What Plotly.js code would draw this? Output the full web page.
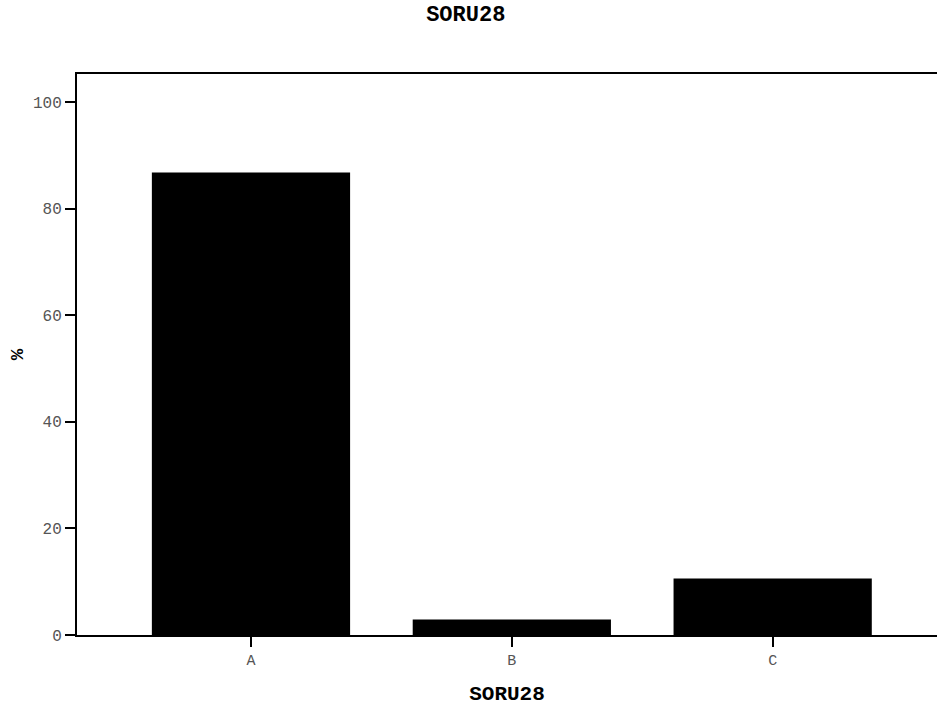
<!DOCTYPE html>
<html>
<head>
<meta charset="utf-8">
<script src="https://cdn.plot.ly/plotly-3.0.1.min.js"></script>
<style>html,body{margin:0;padding:0;background:#fff;}#chart{width:939px;height:709px;}</style>
</head>
<body>
<div id="chart"></div>
<script>
const categories = ["A", "B", "C"];
const percents = [86.8, 2.9, 10.6];
const yTickVals = [0, 20, 40, 60, 80, 100];
const yTickText = ["0", "20", "40", "60", "80", "100"];

const mono = "Liberation Mono, Courier New, monospace";

Plotly.newPlot("chart", [{
  type: "bar",
  x: categories,
  y: percents,
  width: 0.76,
  marker: {color: "#000000", line: {color: "#000000", width: 0}},
  hoverinfo: "x+y"
}], {
  width: 939, height: 709,
  margin: {l: 77, r: 2, t: 74, b: 74},
  paper_bgcolor: "#ffffff", plot_bgcolor: "#ffffff",
  title: {text: "<b>SORU28</b>", font: {family: mono, size: 22, color: "#000"}, x: 0.496, xref: "container", y: 0.981, yref: "container", yanchor: "middle"},
  xaxis: {
    type: "category",
    range: [-0.667, 2.63],
    showline: true, linecolor: "#000", linewidth: 2, mirror: true,
    ticks: "outside", ticklen: 10, tickwidth: 2, tickcolor: "#000",
    tickfont: {family: mono, size: 15, color: "#555"},
    showgrid: false, zeroline: false,
    title: {text: "<b>SORU28</b>", font: {family: mono, size: 21, color: "#000"}, standoff: 16}
  },
  yaxis: {
    range: [0, 105.3],
    tickvals: yTickVals, ticktext: yTickText,
    showline: true, linecolor: "#000", linewidth: 2,
    ticks: "outside", ticklen: 10, tickwidth: 2, tickcolor: "#000",
    tickfont: {family: mono, size: 16, color: "#555"},
    showgrid: false, zeroline: false,
    title: {text: "<b>%</b>", font: {family: mono, size: 19, color: "#000"}, standoff: 4}
  },
  showlegend: false
}, {displayModeBar: false});
</script>
</body>
</html>
